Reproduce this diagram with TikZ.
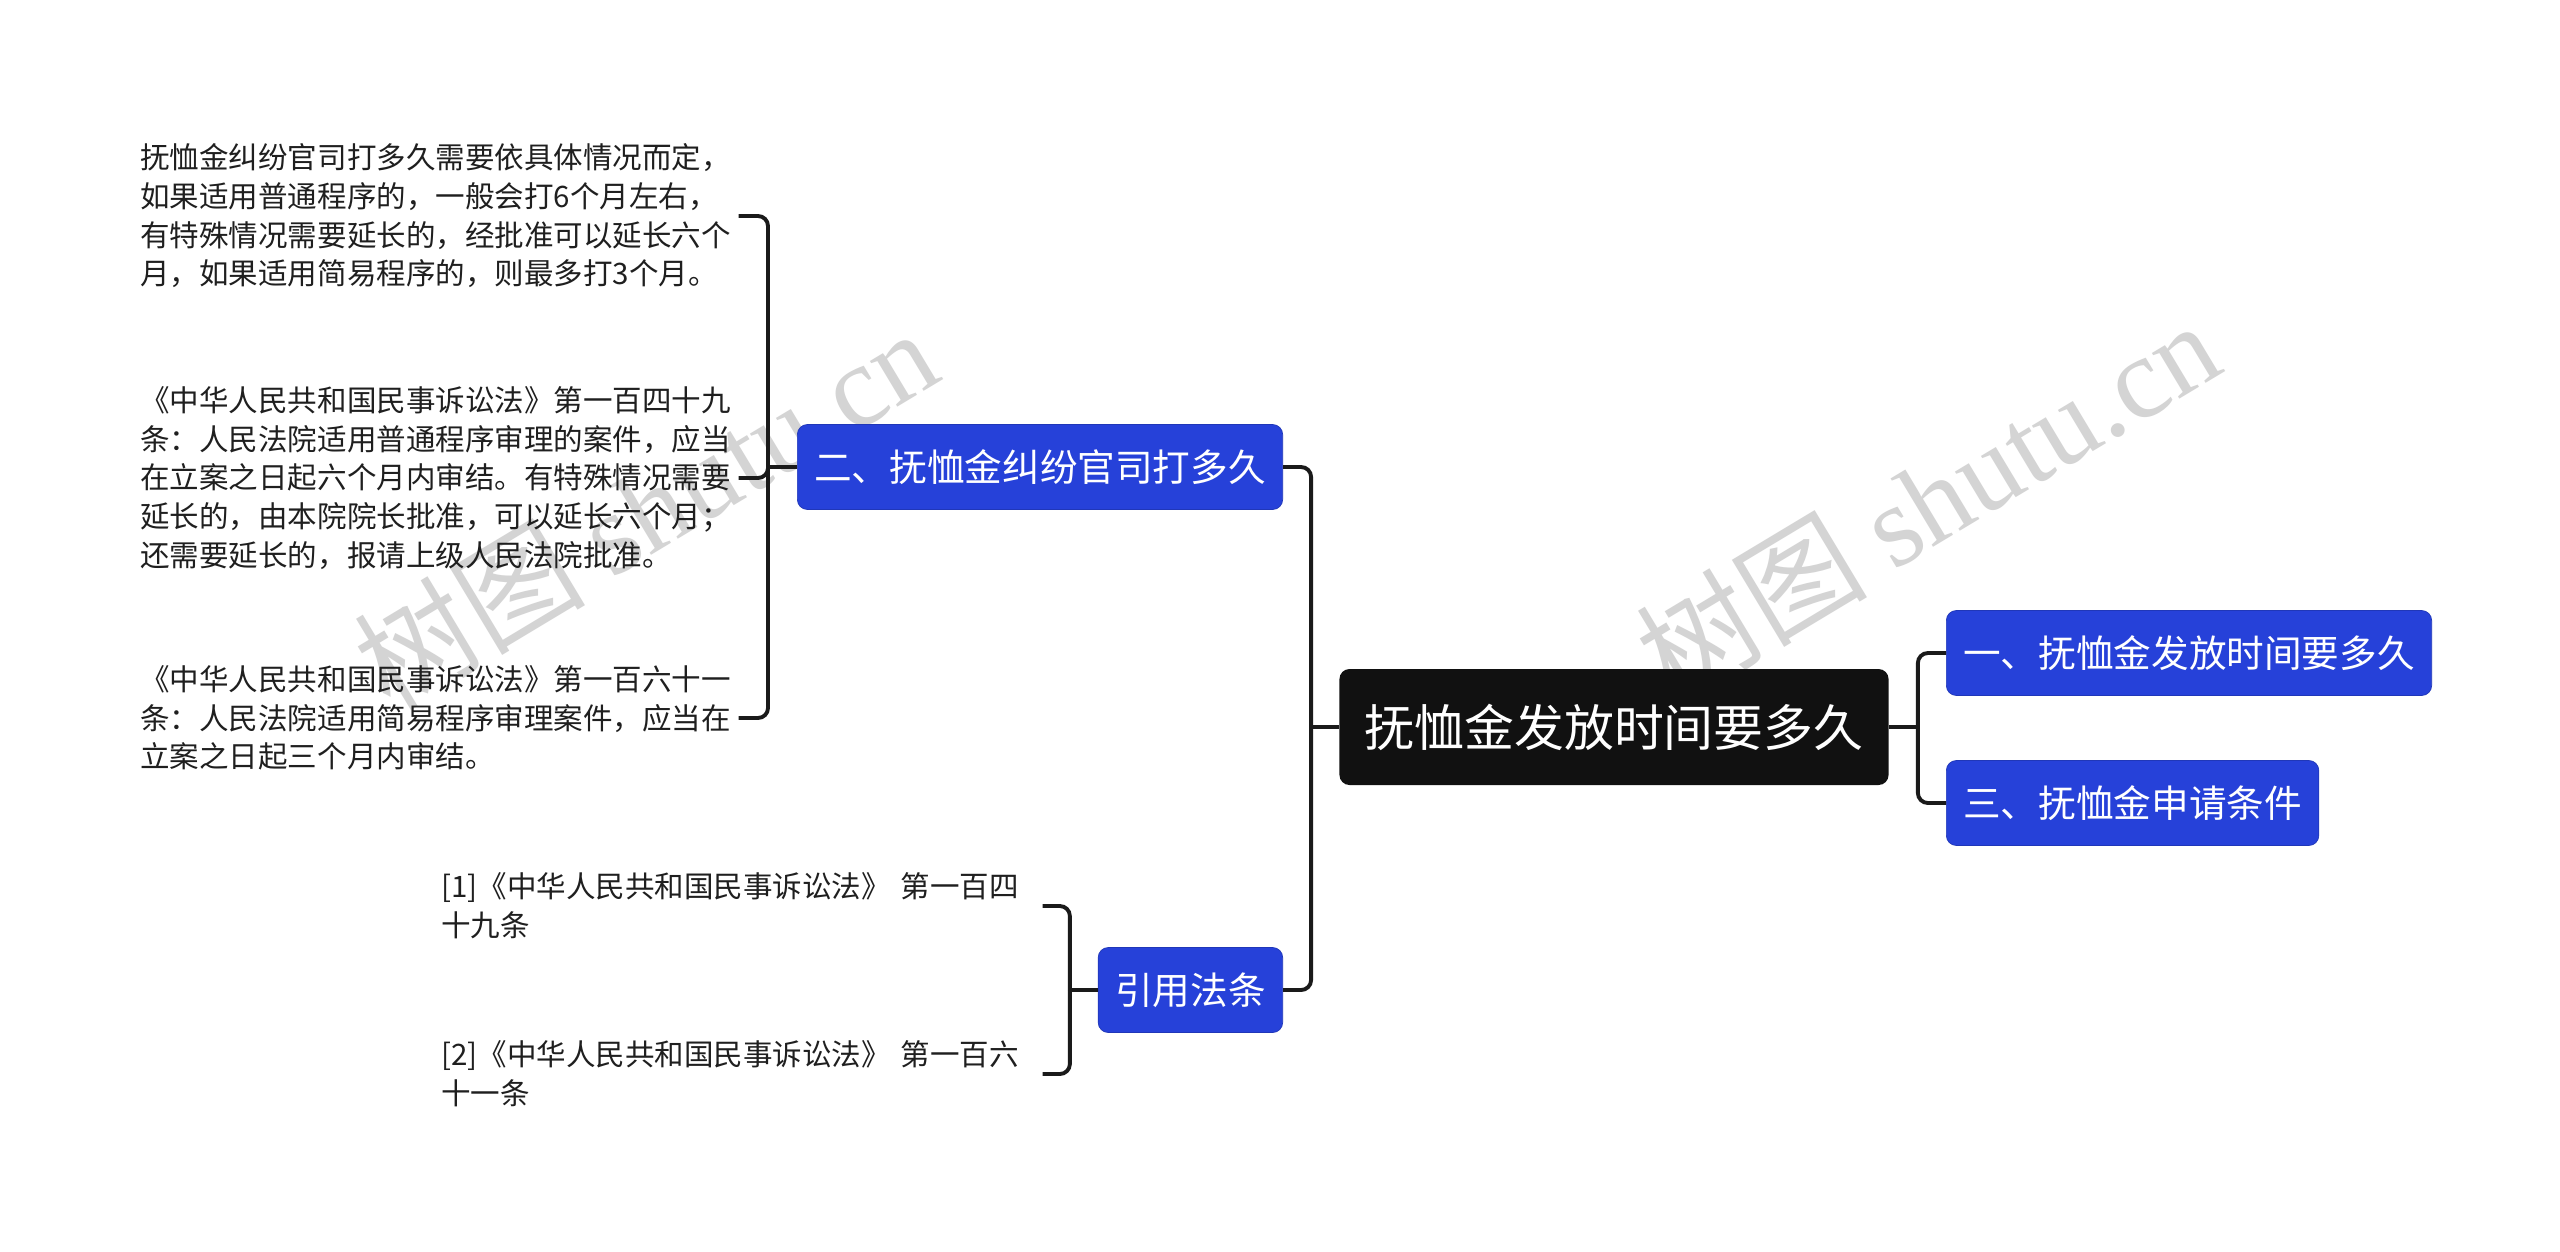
\documentclass[tikz,border=0pt]{standalone}
\usepackage{fontspec}
\setmainfont{Noto Sans CJK SC}
\newfontfamily\wmserif{Liberation Serif}
\usepackage{xcolor}
\usepackage{tikz}
\usetikzlibrary{positioning,calc}
\definecolor{topicblue}{HTML}{2641D9}
\definecolor{rootblack}{HTML}{111111}
\definecolor{linkblack}{HTML}{1A1A1A}
\tikzset{
  rootbox/.style={fill=rootblack, rounded corners=2mm, text=white, font=\fontsize{28.4}{34}\selectfont, inner xsep=5mm, minimum height=23.2mm},
  topicbox/.style={fill=topicblue, draw=topicblue!85!black, line width=0.4pt, rounded corners=2mm, text=white, font=\fontsize{21.4}{26}\selectfont, inner xsep=3.4mm, minimum height=17mm},
  leaftext/.style={align=left, inner sep=0pt, text=black!88, font=\fontsize{16.8}{22}\selectfont},
  link/.style={draw=linkblack, line width=2.2pt, rounded corners=2mm},
  watermark/.style={text=black!17, rotate=31, font=\fontsize{66}{74}\selectfont},
}

\begin{document}
\begin{tikzpicture}[x=0.2mm,y=-0.2mm]
		\useasboundingbox (0,0) rectangle (2560,1251);
		\fill[white] (0,0) rectangle (2560,1251);
		\node[watermark] (wm1) at (645,508) {树图 {\wmserif shutu.cn}};
		\node[watermark] (wm2) at (1927,500) {树图 {\wmserif shutu.cn}};
		\node[rootbox] (root) at (1614,727) {抚恤金发放时间要多久};
		\node[topicbox, anchor=west] (t1) at (1946,653) {一、抚恤金发放时间要多久};
		\node[topicbox, anchor=west] (t3) at (1946,803) {三、抚恤金申请条件};
		\node[topicbox, anchor=east] (t2) at (1283,467) {二、抚恤金纠纷官司打多久};
		\node[topicbox, anchor=east] (law) at (1283,990) {引用法条};
		\node[leaftext, text width=119.6mm, anchor=west] (l1) at (140,216) {抚恤金纠纷官司打多久需要依具体情况而定，\\如果适用普通程序的，一般会打6个月左右，\\有特殊情况需要延长的，经批准可以延长六个\\月，如果适用简易程序的，则最多打3个月。};
		\node[leaftext, text width=119.6mm, anchor=west] (l2) at (140,478) {《中华人民共和国民事诉讼法》第一百四十九\\条：人民法院适用普通程序审理的案件，应当\\在立案之日起六个月内审结。有特殊情况需要\\延长的，由本院院长批准，可以延长六个月；\\还需要延长的，报请上级人民法院批准。};
		\node[leaftext, text width=119.6mm, anchor=west] (l3) at (140,718) {《中华人民共和国民事诉讼法》第一百六十一\\条：人民法院适用简易程序审理案件，应当在\\立案之日起三个月内审结。};
		\node[leaftext, text width=120.2mm, anchor=west] (r1) at (441,906) {[1]《中华人民共和国民事诉讼法》 第一百四\\十九条};
		\node[leaftext, text width=120.2mm, anchor=west] (r2) at (441,1074) {[2]《中华人民共和国民事诉讼法》 第一百六\\十一条};
		\draw[link] (root.west) -- ++(-28,0) coordinate (jl);
		\draw[link] (jl) |- (t2.east);
		\draw[link] (jl) |- (law.east);
		\draw[link] (root.east) -- ++(29,0) coordinate (jr);
		\draw[link] (jr) |- (t1.west);
		\draw[link] (jr) |- (t3.west);
		\draw[link] (t2.west) -- ++(-29,0) coordinate (j2);
		\draw[link] (j2) |- (l1.east);
		\draw[link] (j2) |- (l2.east);
		\draw[link] (j2) |- (l3.east);
		\draw[link] (law.west) -- ++(-28,0) coordinate (jlaw);
		\draw[link] (jlaw) |- (r1.east);
		\draw[link] (jlaw) |- (r2.east);
	\end{tikzpicture}
\end{document}
